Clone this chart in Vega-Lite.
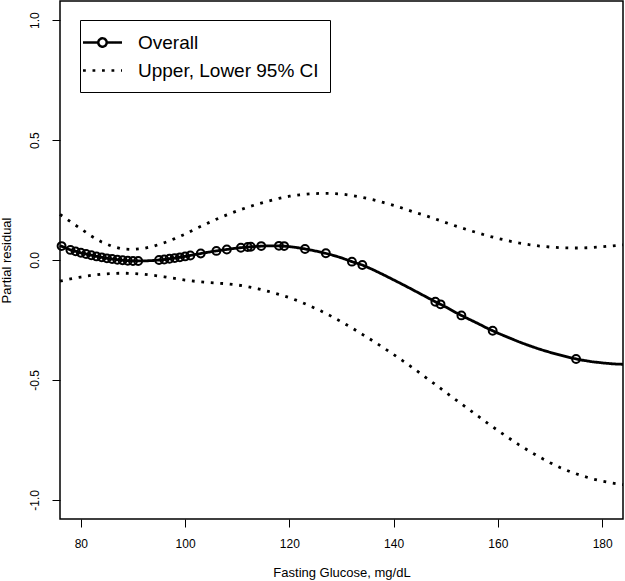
{
  "$schema": "https://vega.github.io/schema/vega-lite/v6.json",
  "width": 563,
  "height": 518,
  "autosize": {"type": "none"},
  "padding": {"left": 60, "top": 1, "right": 2, "bottom": 62},
  "background": "white",
  "config": {
    "view": {"stroke": "black", "strokeWidth": 1.5},
    "font": "Liberation Sans",
    "axis": {
      "domain": false, "grid": false, "ticks": true, "tickColor": "black", "tickWidth": 1, "tickSize": 8,
      "labelFont": "Liberation Sans", "labelFontSize": 12, "labelColor": "black",
      "titleFont": "Liberation Sans", "titleFontSize": 13, "titleFontWeight": "normal", "titleColor": "black"
    }
  },
  "datasets": {
    "curves": [
      {"x":76,"y":0.060,"series":"Overall","bound":"Fit"},
      {"x":78,"y":0.042,"series":"Overall","bound":"Fit"},
      {"x":80,"y":0.030,"series":"Overall","bound":"Fit"},
      {"x":82,"y":0.020,"series":"Overall","bound":"Fit"},
      {"x":84,"y":0.011,"series":"Overall","bound":"Fit"},
      {"x":86,"y":0.004,"series":"Overall","bound":"Fit"},
      {"x":88,"y":-0.001,"series":"Overall","bound":"Fit"},
      {"x":90,"y":-0.004,"series":"Overall","bound":"Fit"},
      {"x":92,"y":-0.004,"series":"Overall","bound":"Fit"},
      {"x":94,"y":-0.002,"series":"Overall","bound":"Fit"},
      {"x":96,"y":0.002,"series":"Overall","bound":"Fit"},
      {"x":98,"y":0.008,"series":"Overall","bound":"Fit"},
      {"x":100,"y":0.015,"series":"Overall","bound":"Fit"},
      {"x":102,"y":0.023,"series":"Overall","bound":"Fit"},
      {"x":104,"y":0.031,"series":"Overall","bound":"Fit"},
      {"x":106,"y":0.038,"series":"Overall","bound":"Fit"},
      {"x":108,"y":0.044,"series":"Overall","bound":"Fit"},
      {"x":110,"y":0.050,"series":"Overall","bound":"Fit"},
      {"x":112,"y":0.054,"series":"Overall","bound":"Fit"},
      {"x":114,"y":0.057,"series":"Overall","bound":"Fit"},
      {"x":116,"y":0.059,"series":"Overall","bound":"Fit"},
      {"x":118,"y":0.059,"series":"Overall","bound":"Fit"},
      {"x":120,"y":0.056,"series":"Overall","bound":"Fit"},
      {"x":122,"y":0.050,"series":"Overall","bound":"Fit"},
      {"x":124,"y":0.042,"series":"Overall","bound":"Fit"},
      {"x":126,"y":0.033,"series":"Overall","bound":"Fit"},
      {"x":128,"y":0.022,"series":"Overall","bound":"Fit"},
      {"x":130,"y":0.009,"series":"Overall","bound":"Fit"},
      {"x":132,"y":-0.007,"series":"Overall","bound":"Fit"},
      {"x":134,"y":-0.021,"series":"Overall","bound":"Fit"},
      {"x":136,"y":-0.040,"series":"Overall","bound":"Fit"},
      {"x":138,"y":-0.061,"series":"Overall","bound":"Fit"},
      {"x":140,"y":-0.083,"series":"Overall","bound":"Fit"},
      {"x":142,"y":-0.105,"series":"Overall","bound":"Fit"},
      {"x":144,"y":-0.128,"series":"Overall","bound":"Fit"},
      {"x":146,"y":-0.151,"series":"Overall","bound":"Fit"},
      {"x":148,"y":-0.174,"series":"Overall","bound":"Fit"},
      {"x":150,"y":-0.196,"series":"Overall","bound":"Fit"},
      {"x":152,"y":-0.220,"series":"Overall","bound":"Fit"},
      {"x":154,"y":-0.242,"series":"Overall","bound":"Fit"},
      {"x":156,"y":-0.263,"series":"Overall","bound":"Fit"},
      {"x":158,"y":-0.285,"series":"Overall","bound":"Fit"},
      {"x":160,"y":-0.305,"series":"Overall","bound":"Fit"},
      {"x":162,"y":-0.323,"series":"Overall","bound":"Fit"},
      {"x":164,"y":-0.341,"series":"Overall","bound":"Fit"},
      {"x":166,"y":-0.357,"series":"Overall","bound":"Fit"},
      {"x":168,"y":-0.372,"series":"Overall","bound":"Fit"},
      {"x":170,"y":-0.385,"series":"Overall","bound":"Fit"},
      {"x":172,"y":-0.397,"series":"Overall","bound":"Fit"},
      {"x":174,"y":-0.408,"series":"Overall","bound":"Fit"},
      {"x":176,"y":-0.417,"series":"Overall","bound":"Fit"},
      {"x":178,"y":-0.424,"series":"Overall","bound":"Fit"},
      {"x":180,"y":-0.429,"series":"Overall","bound":"Fit"},
      {"x":182,"y":-0.433,"series":"Overall","bound":"Fit"},
      {"x":184,"y":-0.435,"series":"Overall","bound":"Fit"},

      {"x":76,"y":0.190,"series":"Upper, Lower 95% CI","bound":"Upper"},
      {"x":78,"y":0.160,"series":"Upper, Lower 95% CI","bound":"Upper"},
      {"x":80,"y":0.130,"series":"Upper, Lower 95% CI","bound":"Upper"},
      {"x":82,"y":0.100,"series":"Upper, Lower 95% CI","bound":"Upper"},
      {"x":84,"y":0.075,"series":"Upper, Lower 95% CI","bound":"Upper"},
      {"x":86,"y":0.057,"series":"Upper, Lower 95% CI","bound":"Upper"},
      {"x":88,"y":0.046,"series":"Upper, Lower 95% CI","bound":"Upper"},
      {"x":90,"y":0.044,"series":"Upper, Lower 95% CI","bound":"Upper"},
      {"x":92,"y":0.048,"series":"Upper, Lower 95% CI","bound":"Upper"},
      {"x":94,"y":0.058,"series":"Upper, Lower 95% CI","bound":"Upper"},
      {"x":96,"y":0.072,"series":"Upper, Lower 95% CI","bound":"Upper"},
      {"x":98,"y":0.089,"series":"Upper, Lower 95% CI","bound":"Upper"},
      {"x":100,"y":0.108,"series":"Upper, Lower 95% CI","bound":"Upper"},
      {"x":102,"y":0.130,"series":"Upper, Lower 95% CI","bound":"Upper"},
      {"x":104,"y":0.150,"series":"Upper, Lower 95% CI","bound":"Upper"},
      {"x":106,"y":0.170,"series":"Upper, Lower 95% CI","bound":"Upper"},
      {"x":108,"y":0.188,"series":"Upper, Lower 95% CI","bound":"Upper"},
      {"x":110,"y":0.205,"series":"Upper, Lower 95% CI","bound":"Upper"},
      {"x":112,"y":0.220,"series":"Upper, Lower 95% CI","bound":"Upper"},
      {"x":114,"y":0.234,"series":"Upper, Lower 95% CI","bound":"Upper"},
      {"x":116,"y":0.246,"series":"Upper, Lower 95% CI","bound":"Upper"},
      {"x":118,"y":0.257,"series":"Upper, Lower 95% CI","bound":"Upper"},
      {"x":120,"y":0.266,"series":"Upper, Lower 95% CI","bound":"Upper"},
      {"x":122,"y":0.272,"series":"Upper, Lower 95% CI","bound":"Upper"},
      {"x":124,"y":0.276,"series":"Upper, Lower 95% CI","bound":"Upper"},
      {"x":126,"y":0.278,"series":"Upper, Lower 95% CI","bound":"Upper"},
      {"x":128,"y":0.278,"series":"Upper, Lower 95% CI","bound":"Upper"},
      {"x":130,"y":0.275,"series":"Upper, Lower 95% CI","bound":"Upper"},
      {"x":132,"y":0.269,"series":"Upper, Lower 95% CI","bound":"Upper"},
      {"x":134,"y":0.261,"series":"Upper, Lower 95% CI","bound":"Upper"},
      {"x":136,"y":0.252,"series":"Upper, Lower 95% CI","bound":"Upper"},
      {"x":138,"y":0.240,"series":"Upper, Lower 95% CI","bound":"Upper"},
      {"x":140,"y":0.228,"series":"Upper, Lower 95% CI","bound":"Upper"},
      {"x":142,"y":0.214,"series":"Upper, Lower 95% CI","bound":"Upper"},
      {"x":144,"y":0.199,"series":"Upper, Lower 95% CI","bound":"Upper"},
      {"x":146,"y":0.186,"series":"Upper, Lower 95% CI","bound":"Upper"},
      {"x":148,"y":0.171,"series":"Upper, Lower 95% CI","bound":"Upper"},
      {"x":150,"y":0.156,"series":"Upper, Lower 95% CI","bound":"Upper"},
      {"x":152,"y":0.141,"series":"Upper, Lower 95% CI","bound":"Upper"},
      {"x":154,"y":0.127,"series":"Upper, Lower 95% CI","bound":"Upper"},
      {"x":156,"y":0.114,"series":"Upper, Lower 95% CI","bound":"Upper"},
      {"x":158,"y":0.101,"series":"Upper, Lower 95% CI","bound":"Upper"},
      {"x":160,"y":0.090,"series":"Upper, Lower 95% CI","bound":"Upper"},
      {"x":162,"y":0.080,"series":"Upper, Lower 95% CI","bound":"Upper"},
      {"x":164,"y":0.071,"series":"Upper, Lower 95% CI","bound":"Upper"},
      {"x":166,"y":0.064,"series":"Upper, Lower 95% CI","bound":"Upper"},
      {"x":168,"y":0.058,"series":"Upper, Lower 95% CI","bound":"Upper"},
      {"x":170,"y":0.054,"series":"Upper, Lower 95% CI","bound":"Upper"},
      {"x":172,"y":0.051,"series":"Upper, Lower 95% CI","bound":"Upper"},
      {"x":174,"y":0.050,"series":"Upper, Lower 95% CI","bound":"Upper"},
      {"x":176,"y":0.050,"series":"Upper, Lower 95% CI","bound":"Upper"},
      {"x":178,"y":0.052,"series":"Upper, Lower 95% CI","bound":"Upper"},
      {"x":180,"y":0.055,"series":"Upper, Lower 95% CI","bound":"Upper"},
      {"x":182,"y":0.059,"series":"Upper, Lower 95% CI","bound":"Upper"},
      {"x":184,"y":0.063,"series":"Upper, Lower 95% CI","bound":"Upper"},

      {"x":76,"y":-0.088,"series":"Upper, Lower 95% CI","bound":"Lower"},
      {"x":78,"y":-0.079,"series":"Upper, Lower 95% CI","bound":"Lower"},
      {"x":80,"y":-0.071,"series":"Upper, Lower 95% CI","bound":"Lower"},
      {"x":82,"y":-0.064,"series":"Upper, Lower 95% CI","bound":"Lower"},
      {"x":84,"y":-0.059,"series":"Upper, Lower 95% CI","bound":"Lower"},
      {"x":86,"y":-0.056,"series":"Upper, Lower 95% CI","bound":"Lower"},
      {"x":88,"y":-0.055,"series":"Upper, Lower 95% CI","bound":"Lower"},
      {"x":90,"y":-0.056,"series":"Upper, Lower 95% CI","bound":"Lower"},
      {"x":92,"y":-0.059,"series":"Upper, Lower 95% CI","bound":"Lower"},
      {"x":94,"y":-0.064,"series":"Upper, Lower 95% CI","bound":"Lower"},
      {"x":96,"y":-0.070,"series":"Upper, Lower 95% CI","bound":"Lower"},
      {"x":98,"y":-0.077,"series":"Upper, Lower 95% CI","bound":"Lower"},
      {"x":100,"y":-0.084,"series":"Upper, Lower 95% CI","bound":"Lower"},
      {"x":102,"y":-0.089,"series":"Upper, Lower 95% CI","bound":"Lower"},
      {"x":104,"y":-0.093,"series":"Upper, Lower 95% CI","bound":"Lower"},
      {"x":106,"y":-0.096,"series":"Upper, Lower 95% CI","bound":"Lower"},
      {"x":108,"y":-0.099,"series":"Upper, Lower 95% CI","bound":"Lower"},
      {"x":110,"y":-0.104,"series":"Upper, Lower 95% CI","bound":"Lower"},
      {"x":112,"y":-0.111,"series":"Upper, Lower 95% CI","bound":"Lower"},
      {"x":114,"y":-0.120,"series":"Upper, Lower 95% CI","bound":"Lower"},
      {"x":116,"y":-0.131,"series":"Upper, Lower 95% CI","bound":"Lower"},
      {"x":118,"y":-0.143,"series":"Upper, Lower 95% CI","bound":"Lower"},
      {"x":120,"y":-0.157,"series":"Upper, Lower 95% CI","bound":"Lower"},
      {"x":122,"y":-0.173,"series":"Upper, Lower 95% CI","bound":"Lower"},
      {"x":124,"y":-0.192,"series":"Upper, Lower 95% CI","bound":"Lower"},
      {"x":126,"y":-0.212,"series":"Upper, Lower 95% CI","bound":"Lower"},
      {"x":128,"y":-0.234,"series":"Upper, Lower 95% CI","bound":"Lower"},
      {"x":130,"y":-0.258,"series":"Upper, Lower 95% CI","bound":"Lower"},
      {"x":132,"y":-0.283,"series":"Upper, Lower 95% CI","bound":"Lower"},
      {"x":134,"y":-0.310,"series":"Upper, Lower 95% CI","bound":"Lower"},
      {"x":136,"y":-0.337,"series":"Upper, Lower 95% CI","bound":"Lower"},
      {"x":138,"y":-0.365,"series":"Upper, Lower 95% CI","bound":"Lower"},
      {"x":140,"y":-0.394,"series":"Upper, Lower 95% CI","bound":"Lower"},
      {"x":142,"y":-0.424,"series":"Upper, Lower 95% CI","bound":"Lower"},
      {"x":144,"y":-0.455,"series":"Upper, Lower 95% CI","bound":"Lower"},
      {"x":146,"y":-0.487,"series":"Upper, Lower 95% CI","bound":"Lower"},
      {"x":148,"y":-0.519,"series":"Upper, Lower 95% CI","bound":"Lower"},
      {"x":150,"y":-0.552,"series":"Upper, Lower 95% CI","bound":"Lower"},
      {"x":152,"y":-0.584,"series":"Upper, Lower 95% CI","bound":"Lower"},
      {"x":154,"y":-0.616,"series":"Upper, Lower 95% CI","bound":"Lower"},
      {"x":156,"y":-0.648,"series":"Upper, Lower 95% CI","bound":"Lower"},
      {"x":158,"y":-0.680,"series":"Upper, Lower 95% CI","bound":"Lower"},
      {"x":160,"y":-0.711,"series":"Upper, Lower 95% CI","bound":"Lower"},
      {"x":162,"y":-0.741,"series":"Upper, Lower 95% CI","bound":"Lower"},
      {"x":164,"y":-0.770,"series":"Upper, Lower 95% CI","bound":"Lower"},
      {"x":166,"y":-0.797,"series":"Upper, Lower 95% CI","bound":"Lower"},
      {"x":168,"y":-0.822,"series":"Upper, Lower 95% CI","bound":"Lower"},
      {"x":170,"y":-0.845,"series":"Upper, Lower 95% CI","bound":"Lower"},
      {"x":172,"y":-0.866,"series":"Upper, Lower 95% CI","bound":"Lower"},
      {"x":174,"y":-0.884,"series":"Upper, Lower 95% CI","bound":"Lower"},
      {"x":176,"y":-0.899,"series":"Upper, Lower 95% CI","bound":"Lower"},
      {"x":178,"y":-0.912,"series":"Upper, Lower 95% CI","bound":"Lower"},
      {"x":180,"y":-0.922,"series":"Upper, Lower 95% CI","bound":"Lower"},
      {"x":182,"y":-0.930,"series":"Upper, Lower 95% CI","bound":"Lower"},
      {"x":184,"y":-0.937,"series":"Upper, Lower 95% CI","bound":"Lower"}
    ],
    "obs": [
      {"x":76.3,"y":0.058},{"x":78,"y":0.042},{"x":79,"y":0.036},{"x":80,"y":0.030},{"x":81,"y":0.025},
      {"x":82,"y":0.020},{"x":83,"y":0.015},{"x":84,"y":0.011},{"x":85,"y":0.007},{"x":86,"y":0.004},
      {"x":87,"y":0.001},{"x":88,"y":-0.001},{"x":89,"y":-0.003},{"x":90,"y":-0.004},{"x":91,"y":-0.004},
      {"x":95,"y":0.000},{"x":96,"y":0.002},{"x":97,"y":0.005},{"x":98,"y":0.008},{"x":99,"y":0.011},
      {"x":100,"y":0.015},{"x":101,"y":0.019},{"x":103,"y":0.027},{"x":106,"y":0.038},{"x":108,"y":0.044},
      {"x":110.7,"y":0.051},{"x":112,"y":0.054},{"x":112.6,"y":0.055},{"x":114.6,"y":0.058},{"x":118,"y":0.059},
      {"x":119,"y":0.058},{"x":123,"y":0.046},{"x":127,"y":0.028},{"x":132,"y":-0.007},{"x":134,"y":-0.021},
      {"x":148,"y":-0.174},{"x":149,"y":-0.185},{"x":153,"y":-0.231},{"x":159,"y":-0.295},{"x":175,"y":-0.413}
    ]
  },
  "layer": [
    {
      "data": {"name": "curves"},
      "mark": {"type": "line", "color": "black", "strokeWidth": 2.8, "strokeCap": "butt"},
      "encoding": {
        "x": {"field": "x", "type": "quantitative", "scale": {"domain": [76, 184], "nice": false, "zero": false},
              "axis": {"values": [80, 100, 120, 140, 160, 180], "labelPadding": 11, "title": "Fasting Glucose, mg/dL",
                       "titleX": 281.5, "titleY": 57, "titleBaseline": "alphabetic", "titleAlign": "center"}},
        "y": {"field": "y", "type": "quantitative", "scale": {"domain": [-1.08, 1.08], "nice": false, "zero": false},
              "axis": {"values": [-1, -0.5, 0, 0.5, 1], "labelAngle": -90, "labelAlign": "center", "labelBaseline": "alphabetic",
                       "labelPadding": 14, "labelExpr": "replace(format(datum.value, '.1f'), '\u2212', '-')",
                       "title": "Partial residual", "titleX": -50, "titleY": 259, "titleAngle": -90,
                       "titleBaseline": "alphabetic", "titleAlign": "center"}},
        "strokeDash": {"field": "series", "type": "nominal",
          "scale": {"domain": ["Overall", "Upper, Lower 95% CI"], "range": [[1, 0], [2.8, 6.7]]},
          "legend": {
            "orient": "none", "legendX": 20, "legendY": 19, "direction": "vertical", "title": null,
            "strokeColor": "black", "padding": 11, "symbolSize": 400, "symbolStrokeWidth": 2.5,
            "symbolStrokeColor": "black", "symbolFillColor": "white", "labelLimit": 400,
            "labelFont": "Liberation Sans", "labelFontSize": 19, "labelColor": "black", "labelOffset": 24, "rowPadding": 6,
            "encode": {"symbols": {"update": {"shape": {"signal": "datum.value === 'Overall' ? 'M-1.95,0H-0.42M0.42,0H1.95M0.42,0C0.42,0.23 0.23,0.42 0,0.42C-0.23,0.42 -0.42,0.23 -0.42,0C-0.42,-0.23 -0.23,-0.42 0,-0.42C0.23,-0.42 0.42,-0.23 0.42,0Z' : 'M-1.95,0H1.95'"}}}}
          }},
        "detail": {"field": "bound", "type": "nominal"}
      }
    },
    {
      "data": {"name": "obs"},
      "mark": {"type": "point", "filled": false, "color": "black", "size": 62, "strokeWidth": 2, "opacity": 1},
      "encoding": {
        "x": {"field": "x", "type": "quantitative"},
        "y": {"field": "y", "type": "quantitative"}
      }
    }
  ]
}
